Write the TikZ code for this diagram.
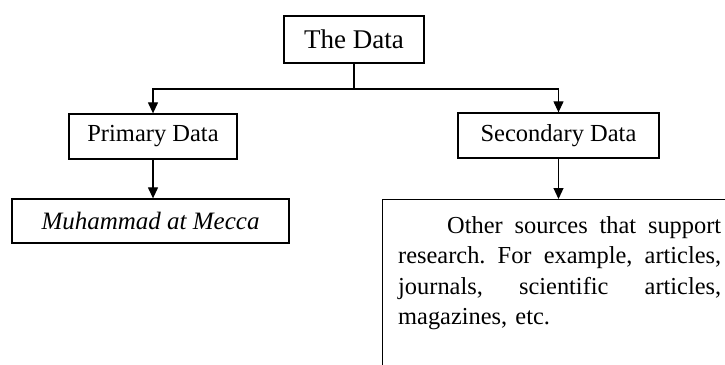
\documentclass[tikz,border=0pt]{standalone}
\usepackage{fontspec}
\setmainfont{Liberation Serif}
\usetikzlibrary{arrows.meta}
\begin{document}
\begin{tikzpicture}[x=1pt,y=-1pt,
  box/.style={draw=black, line width=1.3pt, inner sep=0pt, font=\fontsize{24.5}{28}\selectfont},
  arr/.style={line width=1.2pt, -{Triangle[length=11pt,width=10pt]}},
  conn/.style={line width=1.2pt}]
\useasboundingbox (0,0) rectangle (725,364);
\clip (0,0) rectangle (725,364);
\node[box, minimum width=140pt, minimum height=47pt, font=\fontsize{27}{30}\selectfont] (data) at (354,39.5) {The Data};
\node[box, minimum width=168pt, minimum height=45pt] (primary) at (153,136.5) {Primary Data};
\node[box, minimum width=201pt, minimum height=45pt] (secondary) at (558.5,135.5) {Secondary Data};
\node[box, minimum width=277pt, minimum height=44pt, font=\fontsize{25}{28}\selectfont\itshape] (muh) at (150.5,221) {Muhammad at Mecca};
\node[box, minimum width=360pt, minimum height=190pt, anchor=north west] (big) at (382,199) {};
\node[inner sep=0pt, anchor=north west, text width=323pt, align=left,
      font=\fontsize{24.4}{30.5}\selectfont] (bigtext) at (398,211.6) {%
  \strut\hbox to 323pt{\hspace*{49pt}Other\hfill sources\hfill that\hfill support}\\
  \strut\hbox to 323pt{research.\hfill For\hfill example,\hfill articles,}\\
  \strut\hbox to 323pt{journals,\hfill scientific\hfill articles,}\\
  \strut magazines, etc.};
\coordinate (j) at (354,89);
\draw[conn] (data.south) -- (j);
\draw[arr] (j) -| (primary.north);
\draw[arr] (j) -| (secondary.north);
\draw[arr] (primary.south) -- (primary.south |- muh.north);
\draw[arr] (secondary.south) -- (secondary.south |- big.north);
\end{tikzpicture}
\end{document}
